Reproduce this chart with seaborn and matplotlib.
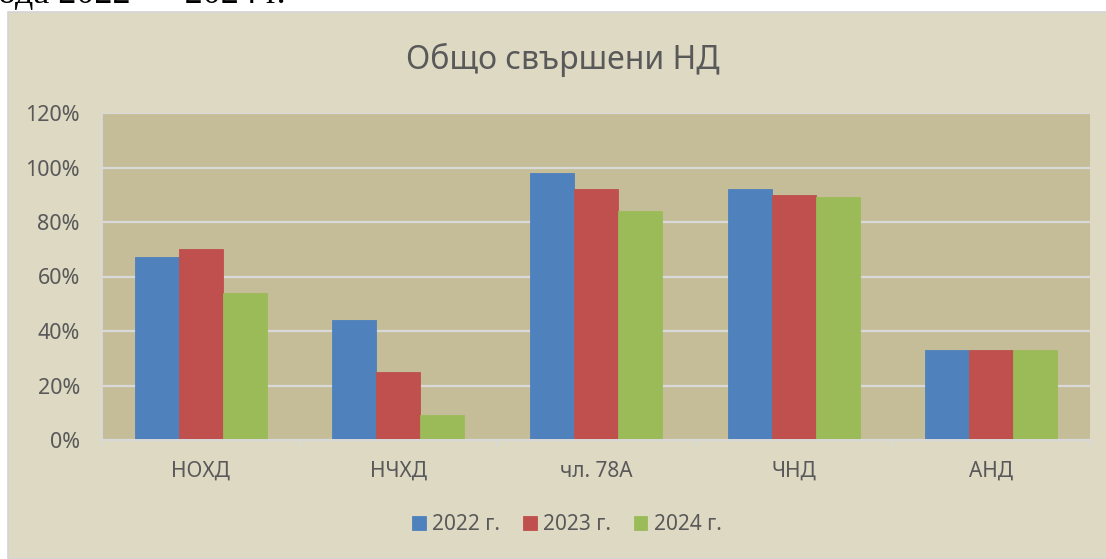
import numpy as np
import pandas as pd
import matplotlib as mpl
mpl.use('Agg')
import seaborn as sns
import matplotlib.pyplot as plt
from matplotlib.ticker import PercentFormatter, FixedLocator
from matplotlib.patches import Rectangle

# data
categories = ["НОХД", "НЧХД", "чл. 78А", "ЧНД", "АНД"]
years = ["2022 г.", "2023 г.", "2024 г."]
vals_2022 = [0.67, 0.44, 0.98, 0.92, 0.33]
vals_2023 = [0.70, 0.25, 0.92, 0.90, 0.33]
vals_2024 = [0.54, 0.09, 0.84, 0.89, 0.33]
colors = ["#4F81BD", "#C0504D", "#9BBB59"]

sns.set_theme(style="white")
plt.rcParams['font.family'] = ['Noto Sans', 'DejaVu Sans']

df = pd.DataFrame({
	"cat": np.tile(categories, 3),
	"year": np.repeat(years, len(categories)),
	"val": vals_2022 + vals_2023 + vals_2024,
})

W, H = 1106, 559
fig = plt.figure(figsize=(W / 100, H / 100), dpi=100)
fig.patch.set_facecolor("white")

# chart box
fig.patches.append(Rectangle((8 / W, 0), 1.2, 1 - 12 / H, transform=fig.transFigure,
	facecolor="#DDD9C3", edgecolor="#D4D4D4", linewidth=1.2, zorder=0))

ax = fig.add_axes([102 / W, (H - 440) / H, 988 / W, 327 / H])
ax.set_zorder(2)
ax.set_facecolor("#C4BD97")

sns.barplot(data=df, x="cat", y="val", hue="year", palette=colors, width=0.668,
	saturation=1, ax=ax, legend=True)
for p in ax.patches:
	p.set_linewidth(0.6)
	p.set_edgecolor(p.get_facecolor())

ax.set_ylim(0, 1.2)
ax.set_xlim(-0.5, 4.5)
ax.set_yticks(np.arange(0, 1.21, 0.2))
ax.yaxis.set_major_formatter(PercentFormatter(1.0, decimals=0))
ax.grid(axis='y', color="#D9D9D9", linewidth=1.6)
ax.set_axisbelow(True)
for s in ["top", "right"]:
	ax.spines[s].set_visible(False)
ax.spines["left"].set_color("#D9D9D9")
ax.spines["bottom"].set_color("#D9D9D9")
ax.spines["bottom"].set_linewidth(1.4)
ax.xaxis.set_minor_locator(FixedLocator(np.arange(-0.5, 4.6, 1)))
ax.tick_params(axis='x', which='minor', length=5, color="#D9D9D9", width=1.2, bottom=True)
ax.tick_params(axis='x', which='major', length=0, pad=15, labelsize=15, labelcolor="#595959")
ax.tick_params(axis='y', length=0, pad=16, labelsize=15.5, labelcolor="#595959")
ax.set_xlabel("")
ax.set_ylabel("")

handles, labels = ax.get_legend_handles_labels()
ax.get_legend().remove()
fig.legend(handles, labels, loc='center', bbox_to_anchor=(567 / W, 1 - 525 / H), ncol=3,
	frameon=False, fontsize=15, labelcolor="#595959", handlelength=0.65, handleheight=0.65,
	handletextpad=0.3, columnspacing=1.1)

fig.text(563 / W, 1 - 60 / H, "Общо свършени НД", ha='center', va='center',
	fontsize=23, color="#595959")

# clipped line of the surrounding document
fig.text(-2 / W, 1 - 3 / H, "ода 2022  –  2024 г.", ha='left', va='baseline',
	fontsize=26, family=['Liberation Serif', 'DejaVu Serif'], color="black")

fig.savefig("out.png", dpi=100)
